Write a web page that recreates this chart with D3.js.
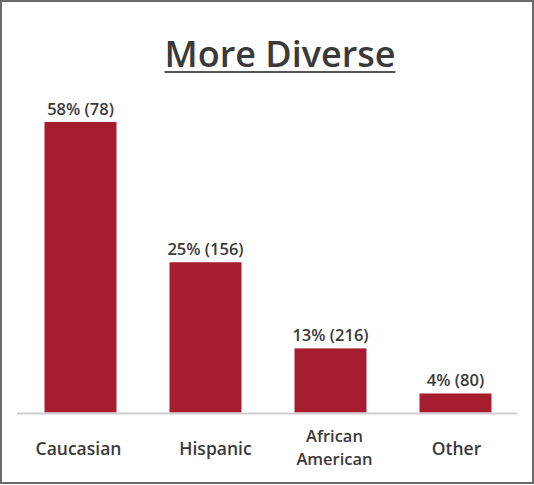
<!DOCTYPE html>
<html>
<head>
<meta charset="utf-8">
<script src="https://cdn.jsdelivr.net/npm/d3@7"></script>
<style>
  html, body { margin: 0; padding: 0; background: #fff; }
  svg { display: block; }
</style>
</head>
<body>
<svg id="chart" width="534" height="485"></svg>
<script>
// Data
const categories = ["Caucasian", "Hispanic", "African American", "Other"];
const percents = [58, 25, 13, 4];
const counts = [78, 156, 216, 80];
// Bar heights as drawn in the picture (in % units)
const barValues = [58, 30, 12.8, 3.8];
const title = "More Diverse";

const svg = d3.select("#chart");
const W = 534, H = 485;
const font = "'Open Sans', 'Noto Sans', sans-serif";
const textColor = "#3a3a3a";

// Border
svg.append("rect")
  .attr("x", 1).attr("y", 1).attr("width", W - 2).attr("height", H - 3)
  .attr("fill", "#fff").attr("stroke", "#6b6b6b").attr("stroke-width", 2);

const x = d3.scaleBand()
  .domain(categories)
  .range([18, 518])
  .paddingInner(0.424)
  .paddingOuter(0.212);

const baseline = 412.5;
const y = d3.scaleLinear().domain([0, 58]).range([baseline, 122]);

const data = categories.map((c, i) => ({
  cat: c, pct: percents[i], n: counts[i], v: barValues[i]
}));

// Title
const t = svg.append("text")
  .attr("x", 280).attr("y", 67)
  .attr("text-anchor", "middle")
  .attr("font-family", font).attr("font-size", 36).attr("font-weight", 600)
  .attr("fill", textColor)
  .text(title);
const tb = t.node().getBBox();
svg.append("line")
  .attr("x1", tb.x).attr("x2", tb.x + tb.width)
  .attr("y1", 72).attr("y2", 72)
  .attr("stroke", "#555").attr("stroke-width", 2);

// Bars
svg.selectAll("rect.bar").data(data).enter().append("rect")
  .attr("class", "bar")
  .attr("x", d => x(d.cat))
  .attr("width", x.bandwidth())
  .attr("y", d => y(d.v))
  .attr("height", d => baseline - y(d.v))
  .attr("fill", "#a51d2f");

// Baseline axis
const axis = svg.append("g").attr("transform", `translate(0,${baseline + 1})`)
  .call(d3.axisBottom(x).tickSize(0).tickFormat(""));
axis.select(".domain").attr("stroke", "#cfcfcf").attr("stroke-width", 2)
  .attr("d", "M17,0H517");

// Value labels
svg.selectAll("text.val").data(data).enter().append("text")
  .attr("class", "val")
  .attr("x", d => x(d.cat) + x.bandwidth() / 2)
  .attr("y", d => y(d.v) - 7)
  .attr("text-anchor", "middle")
  .attr("font-family", font).attr("font-size", 16.5).attr("font-weight", 600)
  .attr("fill", textColor)
  .text(d => `${d.pct}% (${d.n})`);

// Category labels
const labelDx = {"Caucasian": -2, "Hispanic": 10, "African American": 4, "Other": 1};
data.forEach(d => {
  const cx = x(d.cat) + x.bandwidth() / 2 + labelDx[d.cat];
  const words = d.cat.split(" ");
  const multi = words.length > 1;
  const ys = multi ? [442, 465] : [455];
  words.forEach((w, i) => {
    svg.append("text")
      .attr("class", "cat")
      .attr("x", cx).attr("y", ys[i])
      .attr("text-anchor", "middle")
      .attr("font-family", font).attr("font-size", multi ? 16.5 : 17.5).attr("font-weight", 600)
      .attr("fill", textColor)
      .text(multi ? w : d.cat);
  });
});
</script>
</body>
</html>
